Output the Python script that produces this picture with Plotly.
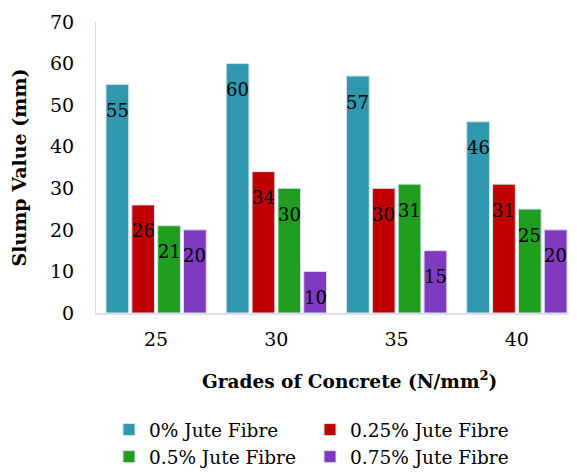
import plotly.graph_objects as go

grades = ["25", "30", "35", "40"]
series_names = ["0% Jute Fibre", "0.25% Jute Fibre", "0.5% Jute Fibre", "0.75% Jute Fibre"]
fibre_0 = [55, 60, 57, 46]
fibre_025 = [26, 34, 30, 31]
fibre_05 = [21, 30, 31, 25]
fibre_075 = [20, 10, 15, 20]
colors = ["#3098AE", "#C00000", "#1F9E1F", "#7F3ABF"]
x_title = "<b>Grades of Concrete (N/mm<sup>2</sup>)</b>"
y_title = "<b>Slump Value (mm)</b>"

series = [fibre_0, fibre_025, fibre_05, fibre_075]
FONT = "DejaVu Serif"
BARGAP = 0.14

fig = go.Figure()
for name, vals, col in zip(series_names, series, colors):
    fig.add_trace(go.Bar(
        x=grades, y=vals, name=name,
        marker=dict(color=col, line=dict(color="#D6E2EE", width=1)),
    ))

n = len(series)
slot = (1 - BARGAP) / n
annotations = []
for i, vals in enumerate(series):
    for j, v in enumerate(vals):
        annotations.append(dict(
            x=j + (i - (n - 1) / 2) * slot, y=v, xref="x", yref="y",
            text=str(v), showarrow=False, yanchor="middle", yshift=-26,
            font=dict(family=FONT, size=18, color="black"),
        ))
# x-axis title (slightly right of centre, as in the reference)
annotations.append(dict(
    x=0.528, y=0, xref="paper", yref="paper", xanchor="center", yanchor="middle",
    yshift=-67, text=x_title, showarrow=False,
    font=dict(family=FONT, size=18.5, color="black"),
))

fig.update_layout(
    width=569, height=464,
    margin=dict(l=88, r=0, t=14, b=159, autoexpand=False),
    paper_bgcolor="white", plot_bgcolor="white",
    barmode="group", bargap=BARGAP, bargroupgap=0.12,
    font=dict(family=FONT, size=19, color="black"),
    annotations=annotations,
    showlegend=True,
    legend=dict(orientation="h", x=0.027, xanchor="left", y=-0.337, yanchor="top",
                entrywidth=156, font=dict(family=FONT, size=18.5),
                itemwidth=30, tracegroupgap=0),
)
fig.update_xaxes(
    showline=True, linecolor="#D9E1EC", linewidth=2,
    showgrid=False, ticks="", ticklabelstandoff=8,
    tickfont=dict(family=FONT, size=19),
)
fig.update_yaxes(
    range=[0, 70], dtick=10, showline=True, linecolor="#D9D9D9", linewidth=1,
    showgrid=False, zeroline=False, ticks="", ticklabelstandoff=17,
    tickfont=dict(family=FONT, size=19),
    title=dict(text=y_title, font=dict(family=FONT, size=19), standoff=22),
)

fig.write_html("out.html")
